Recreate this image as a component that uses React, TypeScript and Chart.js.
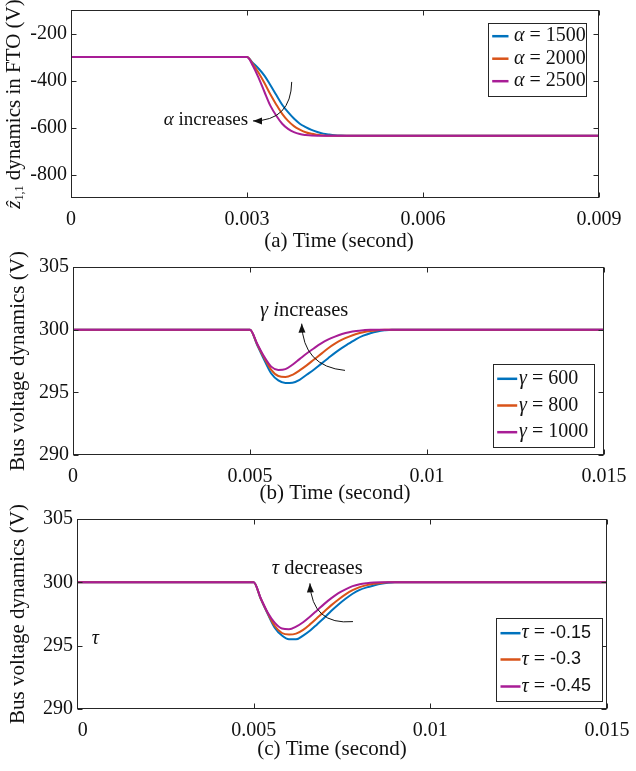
import React, { useEffect, useRef } from "react";
import { Chart, registerables } from "chart.js";
Chart.register(...registerables);

const SERIF = '"Liberation Serif", "Times New Roman", serif';
const SANS = '"Liberation Sans", Arial, sans-serif';
const INK = "#262626";
const BLUE = "#0072BD";
const ORANGE = "#D95319";
const MAGENTA = "#A81D96";

// ---------- Panel (a) ----------
const timeA = [0, 0.003, 0.0031, 0.0032, 0.0033, 0.0034, 0.0035, 0.0036, 0.0037, 0.0038, 0.0039, 0.004, 0.0041, 0.0042, 0.0043, 0.0044, 0.0045, 0.0046, 0.0047, 0.0048, 0.009];
const alpha1500 = [-300, -300, -325, -350, -380, -420, -462, -503, -535, -562, -584, -598, -610, -619, -626, -630, -633, -634.5, -635, -635, -635];
const alpha2000 = [-300, -300, -330, -368, -412, -460, -503, -542, -572, -594, -609, -620, -627, -631, -634, -635, -635, -635, -635, -635, -635];
const alpha2500 = [-300, -300, -337, -390, -450, -508, -550, -584, -606, -620, -628, -632, -634.5, -635, -635, -635, -635, -635, -635, -635, -635];
const alphaLabels = ["1500", "2000", "2500"];
const xTicksA = [0, 0.003, 0.006, 0.009];
const xTickLabelsA = ["0", "0.003", "0.006", "0.009"];
const yTicksA = [-800, -600, -400, -200];
const yTickLabelsA = ["-800", "-600", "-400", "-200"];

// ---------- Panel (b) ----------
const timeB = [0, 0.005, 0.0052, 0.0054, 0.0056, 0.0058, 0.006, 0.0062, 0.0064, 0.0066, 0.0068, 0.007, 0.0072, 0.0074, 0.0076, 0.0078, 0.008, 0.0082, 0.0084, 0.0086, 0.0088, 0.009, 0.015];
const gamma600 = [300, 300, 298.8, 297.6, 296.5, 295.95, 295.74, 295.76, 296.0, 296.4, 296.8, 297.25, 297.7, 298.15, 298.55, 298.9, 299.25, 299.52, 299.72, 299.86, 299.95, 300, 300];
const gamma800 = [300, 300, 298.85, 297.75, 296.8, 296.3, 296.22, 296.4, 296.75, 297.15, 297.6, 298.05, 298.5, 298.88, 299.2, 299.45, 299.65, 299.8, 299.9, 299.96, 300, 300, 300];
const gamma1000 = [300, 300, 298.9, 297.85, 297.05, 296.78, 296.85, 297.2, 297.65, 298.1, 298.5, 298.88, 299.2, 299.45, 299.65, 299.8, 299.9, 299.96, 300, 300, 300, 300, 300];
const gammaLabels = ["600", "800", "1000"];
const xTicksB = [0, 0.005, 0.01, 0.015];
const xTickLabelsB = ["0", "0.005", "0.01", "0.015"];

// ---------- Panel (c) ----------
const timeC = [0, 0.005, 0.0052, 0.0054, 0.0056, 0.0058, 0.006, 0.0062, 0.0064, 0.0066, 0.0068, 0.007, 0.0072, 0.0074, 0.0076, 0.0078, 0.008, 0.0082, 0.0084, 0.0086, 0.0088, 0.009, 0.015];
const tau015 = [300, 300, 298.7, 297.5, 296.4, 295.8, 295.5, 295.5, 295.8, 296.2, 296.7, 297.2, 297.75, 298.25, 298.7, 299.1, 299.4, 299.6, 299.75, 299.88, 299.96, 300, 300];
const tau03 = [300, 300, 298.72, 297.55, 296.55, 296.0, 295.88, 295.95, 296.25, 296.7, 297.2, 297.7, 298.2, 298.65, 299.05, 299.38, 299.62, 299.78, 299.88, 299.95, 300, 300, 300];
const tau045 = [300, 300, 298.75, 297.6, 296.8, 296.35, 296.3, 296.5, 296.85, 297.3, 297.8, 298.3, 298.75, 299.15, 299.45, 299.7, 299.85, 299.93, 299.98, 300, 300, 300, 300];
const tauLabels = ["-0.15", "-0.3", "-0.45"];
const xTicksC = [0, 0.005, 0.01, 0.015];
const xTickLabelsC = ["  \u200a0", "0.005", "0.01", "0.015"];

const yTicksBC = [290, 295, 300, 305];
const yTickLabelsBC = ["290", "295", "300", "305"];

const W = 636;

type Part = { text: string; font: string; dy?: number };

function richWidth(ctx: CanvasRenderingContext2D, parts: Part[]) {
  let w = 0;
  for (const p of parts) {
    ctx.font = p.font;
    w += ctx.measureText(p.text).width;
  }
  return w;
}

function drawRich(ctx: CanvasRenderingContext2D, parts: Part[], x: number, y: number, align: "left" | "center" | "right") {
  const total = richWidth(ctx, parts);
  let cx = align === "left" ? x : align === "center" ? x - total / 2 : x - total;
  ctx.textAlign = "left";
  ctx.textBaseline = "middle";
  for (const p of parts) {
    ctx.font = p.font;
    ctx.fillText(p.text, cx, y + (p.dy || 0));
    cx += ctx.measureText(p.text).width;
  }
}

function drawArrow(ctx: CanvasRenderingContext2D, s: number[], c: number[], e: number[]) {
  ctx.save();
  ctx.strokeStyle = "#111";
  ctx.fillStyle = "#111";
  ctx.lineWidth = 1;
  ctx.beginPath();
  ctx.moveTo(s[0], s[1]);
  ctx.quadraticCurveTo(c[0], c[1], e[0], e[1]);
  ctx.stroke();
  const ang = Math.atan2(e[1] - c[1], e[0] - c[0]);
  const L = 9, Hw = 3.5;
  ctx.beginPath();
  ctx.moveTo(e[0], e[1]);
  ctx.lineTo(e[0] - L * Math.cos(ang) + Hw * Math.sin(ang), e[1] - L * Math.sin(ang) - Hw * Math.cos(ang));
  ctx.lineTo(e[0] - L * Math.cos(ang) - Hw * Math.sin(ang), e[1] - L * Math.sin(ang) + Hw * Math.cos(ang));
  ctx.closePath();
  ctx.fill();
  ctx.restore();
}

type PanelCfg = {
  top: number;
  height: number;
  area: { left: number; right: number; top: number; bottom: number };
  xMin: number; xMax: number; yMin: number; yMax: number;
  xTicks: number[]; xTickLabels: string[]; yTicks: number[]; yTickLabels: string[];
  time: number[];
  series: number[][];
  sym: string;
  legendVals: string[];
  valFont: string;
  legend: { left: number; top: number; w: number; h: number; rows: number[]; l0: number; l1: number; tx: number };
  xTitle: string; xTitleDx: number; xTitleDy: number;
  yTitle: Part[]; yTitleX: number;
  annText: Part[]; annAt: number[]; annAlign: "left" | "right";
  arrow: number[][];
  extra?: { parts: Part[]; at: number[] };
};

const ital = (s: number) => `italic ${s}px ${SERIF}`;
const reg = (s: number) => `${s}px ${SERIF}`;

const panels: PanelCfg[] = [
  {
    top: 0, height: 256,
    area: { left: 71, right: 599, top: 10, bottom: 198 },
    xMin: 0, xMax: 0.009, yMin: -900, yMax: -100,
    xTicks: xTicksA, xTickLabels: xTickLabelsA, yTicks: yTicksA, yTickLabels: yTickLabelsA,
    time: timeA, series: [alpha1500, alpha2000, alpha2500],
    sym: "\u03b1", legendVals: alphaLabels, valFont: reg(20),
    legend: { left: -111, top: 13, w: 98, h: 73, rows: [12.7, 35.2, 57.7], l0: 3.7, l1: 20, tx: 25.5 },
    xTitle: "(a) Time (second)", xTitleDx: 4, xTitleDy: 43,
    yTitle: [
      { text: "z\u0302", font: ital(21) },
      { text: "1,1", font: reg(12), dy: 5 },
      { text: " dynamics in FTO (V)", font: reg(21) },
    ],
    yTitleX: 14.5,
    annText: [{ text: "\u03b1", font: ital(19) }, { text: " increases", font: reg(19) }],
    annAt: [0.00302, -570], annAlign: "right",
    arrow: [[0.003762, -406], [0.00375, -572], [0.003102, -572]],
  },
  {
    top: 240, height: 270,
    area: { left: 73, right: 604, top: 27, bottom: 215 },
    xMin: 0, xMax: 0.015, yMin: 290, yMax: 305,
    xTicks: xTicksB, xTickLabels: xTickLabelsB, yTicks: yTicksBC, yTickLabels: yTickLabelsBC,
    time: timeB, series: [gamma600, gamma800, gamma1000],
    sym: "\u03b3", legendVals: gammaLabels, valFont: reg(20),
    legend: { left: -111, top: -91, w: 101, h: 83, rows: [14.3, 41, 67.7], l0: 3.7, l1: 23.7, tx: 25.5 },
    xTitle: "(b) Time (second)", xTitleDx: -3.5, xTitleDy: 38.5,
    yTitle: [{ text: "Bus voltage dynamics (V)", font: reg(21) }],
    yTitleX: 18.3,
    annText: [{ text: "\u03b3 i", font: ital(20.5) }, { text: "ncreases", font: reg(20.5) }],
    annAt: [0.005283, 301.52], annAlign: "left",
    arrow: [[0.007684, 296.75], [0.006497, 297.06], [0.006461, 300.48]],
  },
  {
    top: 495, height: 276,
    area: { left: 77, right: 607, top: 24, bottom: 214 },
    xMin: 0, xMax: 0.015, yMin: 290, yMax: 305,
    xTicks: xTicksC, xTickLabels: xTickLabelsC, yTicks: yTicksBC, yTickLabels: yTickLabelsBC,
    time: timeC, series: [tau015, tau03, tau045],
    sym: "\u03c4", legendVals: tauLabels, valFont: `18px ${SANS}`,
    legend: { left: -111, top: -91, w: 106, h: 83, rows: [14.7, 41, 68], l0: 4, l1: 24, tx: 25 },
    xTitle: "(c) Time (second)", xTitleDx: -10, xTitleDy: 40,
    yTitle: [{ text: "Bus voltage dynamics (V)", font: reg(21) }],
    yTitleX: 18.3,
    annText: [{ text: "\u03c4", font: ital(20.5) }, { text: " decreases", font: reg(20.5) }],
    annAt: [0.00551, 301.05], annAlign: "left",
    arrow: [[0.00781, 296.9], [0.00665, 296.6], [0.006593, 299.92]],
    extra: { parts: [{ text: "\u03c4", font: ital(20) }], at: [0.000416, 295.56] },
  },
];

const COLORS = [BLUE, ORANGE, MAGENTA];

function makeDecor(cfg: PanelCfg) {
  return {
    id: "decor",
    afterDraw(chart: any) {
      const ctx: CanvasRenderingContext2D = chart.ctx;
      const a = chart.chartArea;
      const xs = chart.scales.x, ys = chart.scales.y;
      ctx.save();
      ctx.strokeStyle = INK;
      ctx.lineWidth = 1;
      const L = Math.round(a.left) + 0.5, R = Math.round(a.right) - 0.5;
      const T = Math.round(a.top) + 0.5, B = Math.round(a.bottom) - 0.5;
      ctx.strokeRect(L, T, R - L, B - T);
      ctx.beginPath();
      for (const v of cfg.xTicks) {
        const px = Math.round(xs.getPixelForValue(v)) + 0.5;
        ctx.moveTo(px, B); ctx.lineTo(px, B - 5);
        ctx.moveTo(px, T); ctx.lineTo(px, T + 5);
      }
      for (const v of cfg.yTicks) {
        const py = Math.round(ys.getPixelForValue(v)) + 0.5;
        ctx.moveTo(L, py); ctx.lineTo(L + 5, py);
        ctx.moveTo(R, py); ctx.lineTo(R - 5, py);
      }
      ctx.stroke();

      // legend
      const lg = cfg.legend;
      const bx = Math.round(a.right + lg.left) + 0.5;
      const by = Math.round(lg.top < 0 ? a.bottom + lg.top : a.top + lg.top) + 0.5;
      ctx.fillStyle = "#fff";
      ctx.fillRect(bx, by, lg.w, lg.h);
      ctx.strokeStyle = INK;
      ctx.lineWidth = 1;
      ctx.strokeRect(bx, by, lg.w, lg.h);
      ctx.fillStyle = "#111";
      cfg.legendVals.forEach((val, i) => {
        const ry = by + lg.rows[i];
        ctx.strokeStyle = COLORS[i];
        ctx.lineWidth = 2.5;
        ctx.beginPath();
        ctx.moveTo(bx + lg.l0, ry);
        ctx.lineTo(bx + lg.l1, ry);
        ctx.stroke();
        drawRich(ctx, [
          { text: cfg.sym, font: ital(20) },
          { text: " = ", font: reg(20) },
          { text: val, font: cfg.valFont },
        ], bx + lg.tx, ry, "left");
      });

      // annotation
      ctx.fillStyle = "#111";
      drawRich(ctx, cfg.annText, xs.getPixelForValue(cfg.annAt[0]), ys.getPixelForValue(cfg.annAt[1]), cfg.annAlign);
      const pts = cfg.arrow.map((p) => [xs.getPixelForValue(p[0]), ys.getPixelForValue(p[1])]);
      drawArrow(ctx, pts[0], pts[1], pts[2]);
      if (cfg.extra) {
        drawRich(ctx, cfg.extra.parts, xs.getPixelForValue(cfg.extra.at[0]), ys.getPixelForValue(cfg.extra.at[1]), "left");
      }

      // axis titles
      ctx.fillStyle = "#111";
      ctx.font = reg(21);
      ctx.textAlign = "center";
      ctx.textBaseline = "middle";
      ctx.fillText(cfg.xTitle, (a.left + a.right) / 2 + cfg.xTitleDx, a.bottom + cfg.xTitleDy);
      ctx.save();
      ctx.translate(cfg.yTitleX, (a.top + a.bottom) / 2);
      ctx.rotate(-Math.PI / 2);
      drawRich(ctx, cfg.yTitle, 0, 0, "center");
      ctx.restore();
      ctx.restore();
    },
  };
}

function Panel({ cfg }: { cfg: PanelCfg }) {
  const ref = useRef<HTMLCanvasElement | null>(null);
  useEffect(() => {
    if (!ref.current) return;
    const a = cfg.area;
    const chart = new Chart(ref.current, {
      type: "line",
      data: {
        datasets: cfg.series.map((s, i) => ({
          label: cfg.sym + " = " + cfg.legendVals[i],
          data: cfg.time.map((t, j) => ({ x: t, y: s[j] })),
          borderColor: COLORS[i],
          borderWidth: 2,
          pointRadius: 0,
          fill: false,
          cubicInterpolationMode: "monotone" as const,
          order: 3 - i,
        })),
      },
      options: {
        responsive: false,
        animation: false,
        devicePixelRatio: 1,
        events: [],
        layout: { padding: { left: 0, top: a.top, right: W - a.right, bottom: 0 } },
        plugins: { legend: { display: false }, tooltip: { enabled: false } },
        scales: {
          x: {
            type: "linear",
            min: cfg.xMin,
            max: cfg.xMax,
            grid: { display: false, drawTicks: false },
            border: { display: false },
            afterBuildTicks: (s: any) => { s.ticks = cfg.xTicks.map((v) => ({ value: v })); },
            ticks: {
              autoSkip: false,
              maxRotation: 0,
              padding: 10,
              color: "#111",
              font: { family: SERIF, size: 20 },
              callback: (_v: any, i: number) => cfg.xTickLabels[i],
            },
            afterFit: (s: any) => { s.height = cfg.height - a.bottom; s.paddingLeft = 0; s.paddingRight = 0; },
          },
          y: {
            type: "linear",
            min: cfg.yMin,
            max: cfg.yMax,
            grid: { display: false, drawTicks: false },
            border: { display: false },
            afterBuildTicks: (s: any) => { s.ticks = cfg.yTicks.map((v) => ({ value: v })); },
            ticks: {
              autoSkip: false,
              padding: 4,
              color: "#111",
              font: { family: SERIF, size: 20 },
              callback: (_v: any, i: number) => cfg.yTickLabels[i],
            },
            afterFit: (s: any) => { s.width = a.left; s.paddingTop = 0; s.paddingBottom = 0; },
          },
        },
      },
      plugins: [makeDecor(cfg)],
    } as any);
    let alive = true;
    const fs: any = (document as any).fonts;
    if (fs && fs.load) {
      Promise.all([
        fs.load(`20px "Liberation Serif"`),
        fs.load(`italic 20px "Liberation Serif"`),
        fs.load(`18px "Liberation Sans"`),
      ]).then(() => { if (alive) chart.update("none"); }).catch(() => {});
    }
    return () => { alive = false; chart.destroy(); };
  }, [cfg]);
  return (
    <canvas
      ref={ref}
      width={W}
      height={cfg.height}
      style={{ position: "absolute", left: 0, top: cfg.top, width: W, height: cfg.height }}
    />
  );
}

export default function App() {
  return (
    <div style={{ position: "fixed", left: 0, top: 0, width: W, height: 771, background: "#fff", overflow: "hidden" }}>
      {panels.map((p, i) => (
        <Panel key={i} cfg={p} />
      ))}
    </div>
  );
}
